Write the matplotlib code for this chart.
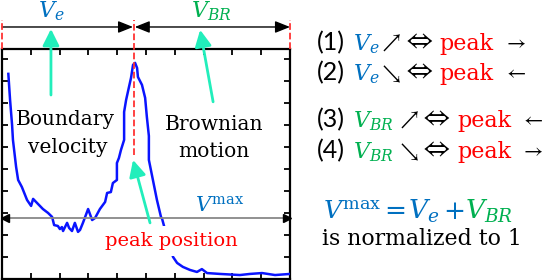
import matplotlib
matplotlib.use("Agg")
import matplotlib.pyplot as plt
import numpy as np
from matplotlib.patches import FancyArrowPatch

plt.rcParams['mathtext.fontset'] = 'dejavuserif'

# ---- data (normalized position, normalized value) ----
curve_x = [0.022, 0.028, 0.035, 0.038, 0.049, 0.056, 0.069, 0.087, 0.101, 0.108,
           0.122, 0.142, 0.160, 0.174, 0.181, 0.194, 0.201, 0.208, 0.212, 0.226,
           0.233, 0.243, 0.253, 0.264, 0.271, 0.281, 0.299, 0.313, 0.323, 0.340,
           0.358, 0.365, 0.378, 0.385, 0.399, 0.399, 0.406, 0.413, 0.424, 0.424,
           0.431, 0.441, 0.448, 0.455, 0.462, 0.469, 0.472, 0.486, 0.497, 0.503,
           0.510, 0.510, 0.524, 0.538, 0.552, 0.556, 0.573, 0.594, 0.608, 0.628,
           0.653, 0.677, 0.694, 0.712, 0.757, 0.826, 0.861, 0.903, 0.948, 1.0]
curve_y = [0.932, 0.814, 0.700, 0.632, 0.509, 0.450, 0.418, 0.359, 0.332, 0.364,
           0.345, 0.318, 0.300, 0.282, 0.245, 0.241, 0.227, 0.236, 0.218, 0.255,
           0.232, 0.218, 0.255, 0.214, 0.223, 0.255, 0.318, 0.268, 0.277, 0.318,
           0.350, 0.391, 0.395, 0.436, 0.450, 0.527, 0.550, 0.586, 0.632, 0.759,
           0.814, 0.873, 0.914, 0.973, 0.982, 0.959, 0.918, 0.882, 0.823, 0.736,
           0.650, 0.541, 0.450, 0.359, 0.282, 0.273, 0.191, 0.100, 0.073, 0.055,
           0.041, 0.032, 0.045, 0.027, 0.023, 0.018, 0.023, 0.027, 0.018, 0.023]
peak_x = 0.458
vmax_y = 0.277
x_ticks = np.arange(0, 1.0001, 0.1)
y_ticks = np.arange(0, 1.0001, 0.1)

BLUE = '#0070c0'
GREEN = '#00b050'
RED = '#ff0000'
CYAN = '#22eebb'
LINE = '#0a14ff'

fig = plt.figure(figsize=(5.45, 2.8), dpi=100)
ax = fig.add_axes([2/545, 1/280, 288/545, 230/280])
ax.set_xlim(0, 1)
ax.set_ylim(0, 1.045)
ax.set_xticks(x_ticks)
ax.set_yticks(y_ticks)
ax.tick_params(direction='in', length=4, width=1.3, top=True, right=True,
               labelbottom=False, labelleft=False)
for s in ax.spines.values():
    s.set_linewidth(1.6)

ax.plot(curve_x, curve_y, color=LINE, lw=1.8, zorder=3)

# red dashed markers
ax.plot([0, 0], [1.045, 1.177], ls='--', color='#ff3333', lw=1.3, clip_on=False, zorder=5)
ax.plot([1, 1], [1.045, 1.177], ls='--', color='#ff3333', lw=1.3, clip_on=False, zorder=5)
ax.plot([peak_x, peak_x], [0.564, 1.177], ls='--', color='#ff3333', lw=1.3, clip_on=False, zorder=5)

# top double arrows
top_y = 1.145
ax.annotate('', xy=(peak_x - 0.003, top_y), xytext=(0, top_y),
            arrowprops=dict(arrowstyle='-|>,head_length=0.45,head_width=0.18',
                            color='black', lw=1.0, shrinkA=0, shrinkB=0, mutation_scale=20),
            annotation_clip=False)
ax.annotate('', xy=(1.0, top_y), xytext=(peak_x + 0.003, top_y),
            arrowprops=dict(arrowstyle='<|-|>,head_length=0.45,head_width=0.18',
                            color='black', lw=1.0, shrinkA=0, shrinkB=0, mutation_scale=20),
            annotation_clip=False)

# Vmax gray line with black heads
ax.plot([0.01, 0.99], [vmax_y, vmax_y], color='#888888', lw=1.3, zorder=4, clip_on=False)
ax.plot([0.012], [vmax_y], marker='<', color='black', ms=6, zorder=5, clip_on=False)
ax.plot([0.988], [vmax_y], marker='>', color='black', ms=6, zorder=5, clip_on=False)

# cyan arrows
def cyan_arrow(x0, y0, x1, y1):
    a = FancyArrowPatch((x0, y0), (x1, y1),
                        arrowstyle='-|>,head_length=0.5,head_width=0.25',
                        mutation_scale=20, color=CYAN, lw=2.0,
                        shrinkA=0, shrinkB=0, clip_on=False, zorder=6)
    ax.add_patch(a)

cyan_arrow(0.170, 0.836, 0.170, 1.136)
cyan_arrow(0.733, 0.805, 0.688, 1.132)
cyan_arrow(0.514, 0.255, 0.455, 0.541)

SERIF = 'DejaVu Serif'

def ftext(x, y, s, **kw):
    fig.text(x/545, 1 - y/280, s, **kw)

# labels in plot
ftext(65, 125, 'Boundary', ha='center', va='baseline', family=SERIF, fontsize=14.5, zorder=7)
ftext(68, 153, 'velocity', ha='center', va='baseline', family=SERIF, fontsize=14.5, zorder=7)
ftext(214, 130, 'Brownian', ha='center', va='baseline', family=SERIF, fontsize=14.5, zorder=7)
ftext(214, 157, 'motion', ha='center', va='baseline', family=SERIF, fontsize=14.5, zorder=7)
ftext(171, 246, 'peak position', ha='center', va='baseline', family=SERIF, fontsize=14,
      color=RED, zorder=5,
      bbox=dict(boxstyle='square,pad=0.3', fc='white', ec='none'))
ftext(195, 212, r'$V^{\mathrm{max}}$', ha='left', va='baseline', fontsize=15, color=BLUE, zorder=7)
ftext(51, 17, r'$V_e$', ha='center', va='baseline', fontsize=16, color=BLUE)
ftext(211, 17, r'$V_{BR}$', ha='center', va='baseline', fontsize=16, color=GREEN)

# right-side statements
SANS = 'Lato'
ARW = 'STIXGeneral'
rows = [
    ('(1)', r'$V_e$', BLUE, '↗', '→', 50, 382, 406, 439, 507),
    ('(2)', r'$V_e$', BLUE, '↘', '←', 80, 382, 406, 439, 507),
    ('(3)', r'$V_{BR}$', GREEN, '↗', '←', 127, 400, 423, 457, 524),
    ('(4)', r'$V_{BR}$', GREEN, '↘', '→', 158, 400, 423, 457, 524),
]
for num, var, col, a1, a2, yb, xa1, xeq, xpk, xa2 in rows:
    ftext(317, yb, num, ha='left', va='baseline', family=SANS, fontsize=18)
    ftext(353, yb, var, ha='left', va='baseline', fontsize=16, color=col)
    ftext(xa1, yb - 1, a1, ha='left', va='baseline', family=ARW, fontsize=15)
    ftext(xeq, yb - 1, '⇔', ha='left', va='baseline', family=ARW, fontsize=20)
    ftext(xpk, yb, 'peak', ha='left', va='baseline', family=SERIF, fontsize=16, color=RED)
    ftext(xa2, yb - 1, a2, ha='left', va='baseline', family=ARW, fontsize=15)

ftext(323, 219, r'$V^{\mathrm{max}}$', ha='left', va='baseline', fontsize=18, color=BLUE)
ftext(384, 219, '=', ha='left', va='baseline', family=SERIF, fontsize=19, color=BLUE)
ftext(408, 219, r'$V_e$', ha='left', va='baseline', fontsize=19, color=BLUE)
ftext(443, 219, '+', ha='left', va='baseline', family=SERIF, fontsize=19, color=BLUE)
ftext(465, 219, r'$V_{BR}$', ha='left', va='baseline', fontsize=19, color=GREEN)
ftext(322, 245, 'is normalized to 1', ha='left', va='baseline', family=SERIF, fontsize=15.8)

fig.savefig('out.png', dpi=100)
